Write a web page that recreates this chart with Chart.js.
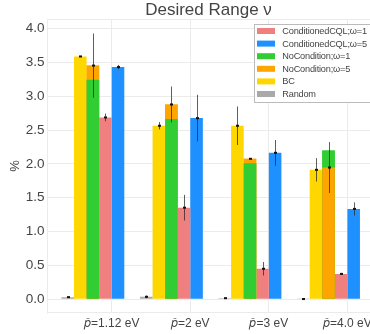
<!DOCTYPE html>
<html>
<head>
<meta charset="utf-8">
<script src="https://cdn.jsdelivr.net/npm/chart.js@4/dist/chart.umd.min.js"></script>
<style>
  html, body { margin: 0; padding: 0; background: #ffffff; }
  #chart { display: block; }
</style>
</head>
<body>
<canvas id="chart" width="370" height="334"></canvas>
<script>
// Photon energy targets (one group of bars each)
const categories = ['1.12', '2', '3', '4.0'];
const tickLabels = ['\u{1D45D}\u0302=1.12 eV', '\u{1D45D}\u0302=2 eV', '\u{1D45D}\u0302=3 eV', '\u{1D45D}\u0302=4.0 eV'];
const yTicks = [0, 0.5, 1, 1.5, 2, 2.5, 3, 3.5, 4];

// Share of generated samples inside the desired range (%), mean and error
const randomVals   = [0.03, 0.035, 0.015, 0.002];
const randomErr    = [0.005, 0.02, 0.005, 0.002];
const bcVals       = [3.59, 2.565, 2.565, 1.913];
const bcErr        = [0.008, 0.055, 0.285, 0.173];
const noCond5Vals  = [3.455, 2.88, 2.076, 1.947];
const noCond5Err   = [0.475, 0.265, 0.006, 0.377];
const noCond1Vals  = [3.245, 2.664, 2.012, 2.2];
const cql1Vals     = [2.688, 1.353, 0.45, 0.374];
const cql1Err      = [0.057, 0.19, 0.1, 0.008];
const cql5Vals     = [3.433, 2.678, 2.165, 1.335];
const cql5Err      = [0.032, 0.345, 0.19, 0.097];

const TEXT = '#444444';
const GRID = '#ebebeb';
const FONT = '"Liberation Sans", Arial, Helvetica, sans-serif';
// Category labels sit on the edge between the 4th and 5th bar slot
const LABEL_SHIFT = 0.24;

const datasets = [
  { label: 'Random',                 data: randomVals,  err: randomErr,  backgroundColor: '#a9a9a9', stack: 's0' },
  { label: 'BC',                     data: bcVals,      err: bcErr,      backgroundColor: '#ffd700', stack: 's1' },
  { label: 'NoCondition;\u03C9=5',   data: noCond5Vals, err: noCond5Err, backgroundColor: '#ffa500', stack: 's2' },
  { label: 'NoCondition;\u03C9=1',   data: noCond1Vals, err: null,       backgroundColor: '#32cd32', stack: 's2' },
  { label: 'ConditionedCQL;\u03C9=1', data: cql1Vals,   err: cql1Err,    backgroundColor: '#f08080', stack: 's3' },
  { label: 'ConditionedCQL;\u03C9=5', data: cql5Vals,   err: cql5Err,    backgroundColor: '#1e90ff', stack: 's4' }
];
const legendOrder = [4, 5, 3, 2, 1, 0];
const sharedSlot = [2, 3];

// In the shared slot the shorter bar is drawn in front of the taller one
const overlapPlugin = {
  id: 'overlap',
  afterDatasetsDraw(chart) {
    const ctx = chart.ctx;
    const metas = sharedSlot.map(i => chart.getDatasetMeta(i));
    const area = chart.chartArea;
    ctx.save();
    ctx.beginPath();
    ctx.rect(area.left, area.top, area.right - area.left, area.bottom - area.top);
    ctx.clip();
    for (let j = 0; j < categories.length; j++) {
      const els = metas.map((m, k) => ({ el: m.data[j], v: chart.data.datasets[sharedSlot[k]].data[j] }));
      els.sort((a, b) => b.v - a.v);
      els.forEach(e => e.el.draw(ctx));
    }
    ctx.restore();
  }
};

// Error bars: thin vertical line with a small mark at the mean
const errorBarPlugin = {
  id: 'errorBars',
  afterDatasetsDraw(chart) {
    const ctx = chart.ctx;
    const y = chart.scales.y;
    ctx.save();
    chart.data.datasets.forEach((ds, i) => {
      if (!ds.err) return;
      const meta = chart.getDatasetMeta(i);
      meta.data.forEach((bar, j) => {
        const v = ds.data[j], e = ds.err[j];
        const x = Math.round(bar.x) + 0.5;
        const yTop = y.getPixelForValue(v + e);
        const yBot = y.getPixelForValue(v - e);
        const yMid = y.getPixelForValue(v);
        ctx.strokeStyle = 'rgba(40,40,40,0.75)';
        ctx.lineWidth = 1;
        ctx.beginPath();
        ctx.moveTo(x, yTop);
        ctx.lineTo(x, yBot);
        ctx.stroke();
        ctx.fillStyle = '#111111';
        ctx.fillRect(x - 1.5, yMid - 1, 3, 2);
      });
    });
    ctx.restore();
  }
};

// Light frame around the plotting area
const framePlugin = {
  id: 'frame',
  beforeDatasetsDraw(chart) {
    const { ctx, chartArea: a } = chart;
    ctx.save();
    ctx.strokeStyle = GRID;
    ctx.lineWidth = 1;
    ctx.beginPath();
    ctx.moveTo(Math.round(a.left) + 0.5, Math.round(a.bottom) + 0.5);
    ctx.lineTo(Math.round(a.left) + 0.5, Math.round(a.top) + 0.5);
    ctx.lineTo(a.right, Math.round(a.top) + 0.5);
    ctx.stroke();
    ctx.restore();
  }
};

// Boxed legend in the upper right corner of the plot
const boxLegendPlugin = {
  id: 'boxLegend',
  afterDraw(chart) {
    const ctx = chart.ctx;
    const x0 = 254.5, y0 = 24.5, w = 130, h = 78;
    ctx.save();
    ctx.fillStyle = '#ffffff';
    ctx.fillRect(x0, y0, w, h);
    ctx.strokeStyle = '#bbbbbb';
    ctx.lineWidth = 1;
    ctx.strokeRect(x0, y0, w, h);
    ctx.font = '9.2px ' + FONT;
    if ('letterSpacing' in ctx) ctx.letterSpacing = '-0.2px';
    ctx.textBaseline = 'middle';
    ctx.textAlign = 'left';
    legendOrder.forEach((idx, r) => {
      const ds = chart.data.datasets[idx];
      const cy = 31 + r * 12.6;
      ctx.fillStyle = ds.backgroundColor;
      ctx.fillRect(257, cy - 3, 18, 6);
      ctx.fillStyle = TEXT;
      ctx.fillText(ds.label, 282.3, cy + 0.5);
    });
    ctx.restore();
  }
};

new Chart(document.getElementById('chart'), {
  type: 'bar',
  data: {
    labels: categories.map((_, i) => i),
    datasets: datasets.map(d => ({
      label: d.label,
      data: d.data,
      err: d.err,
      backgroundColor: d.backgroundColor,
      stack: d.stack,
      borderWidth: 0,
      categoryPercentage: 0.8,
      barPercentage: 1.0
    }))
  },
  options: {
    responsive: false,
    animation: false,
    events: [],
    layout: { padding: 0 },
    plugins: {
      legend: { display: false },
      tooltip: { enabled: false },
      title: {
        display: true,
        text: 'Desired Range \u03BD',
        fullSize: false,
        color: TEXT,
        font: { family: FONT, size: 17, weight: 'normal', lineHeight: 1 },
        padding: { top: 2, bottom: 0 }
      }
    },
    scales: {
      x: {
        type: 'linear',
        offset: false,
        min: -0.584,
        max: 3.528,
        grid: { color: GRID, drawTicks: false, offset: false },
        border: { display: true, color: GRID },
        afterBuildTicks: s => { s.ticks = categories.map((_, i) => ({ value: i + LABEL_SHIFT })); },
        afterFit: s => { s.height = 21.3; s.paddingLeft = 0; s.paddingRight = 0; },
        ticks: {
          color: TEXT,
          padding: 4,
          maxRotation: 0,
          autoSkip: false,
          font: { family: FONT, size: 12 },
          callback: (v, i) => tickLabels[i]
        }
      },
      y: {
        stacked: false,
        min: -0.2,
        max: 4.144,
        grid: { color: GRID, drawTicks: false },
        border: { display: true, color: GRID },
        afterBuildTicks: s => { s.ticks = yTicks.map(v => ({ value: v })); },
        afterFit: s => { s.width = 47; s.paddingTop = 0; s.paddingBottom = 0; },
        title: {
          display: true,
          text: '%',
          color: TEXT,
          font: { family: FONT, size: 13 },
          padding: { top: 8, bottom: 0 }
        },
        ticks: {
          color: TEXT,
          padding: 2.5,
          font: { family: FONT, size: 13.5 },
          callback: v => v.toFixed(1)
        }
      }
    }
  },
  plugins: [framePlugin, overlapPlugin, errorBarPlugin, boxLegendPlugin]
});
</script>
</body>
</html>
